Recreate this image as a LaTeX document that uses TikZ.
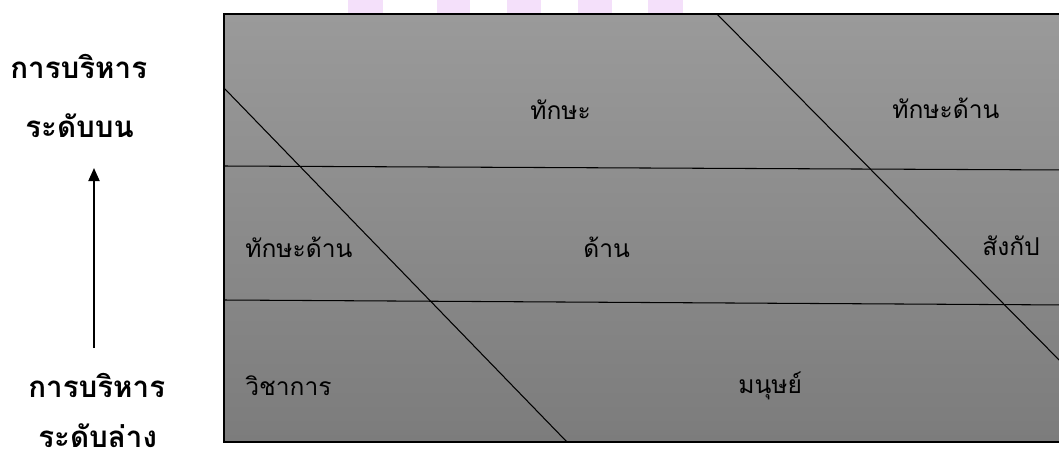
\documentclass[tikz,border=0pt]{standalone}
\usepackage{fontspec}
\newfontfamily\thaifont[Script=Thai]{Loma}
\usetikzlibrary{arrows.meta,calc,positioning}
\definecolor{Ink}{HTML}{000000}
\definecolor{TopGray}{HTML}{9A9A9A}
\definecolor{BottomGray}{HTML}{7C7C7C}
\definecolor{Lilac}{HTML}{F4E0FA}
\tikzset{
  levellabel/.style={
    font=\thaifont\bfseries\fontsize{16.8}{18}\selectfont,
    anchor=base west, inner sep=0pt, text depth=0pt
  },
  skilllabel/.style={
    font=\thaifont\fontsize{14}{16}\selectfont,
    anchor=base west, inner sep=0pt, text=Ink
  },
  divider/.style={draw=Ink, line width=0.6pt},
  frame/.style={draw=Ink, line width=0.9pt},
  uparrow/.style={-{Triangle[length=2.6mm,width=2.2mm]}, line width=1.1pt, draw=Ink}
}

\begin{document}
\begin{tikzpicture}[x=0.02cm,y=-0.02cm]
    \useasboundingbox (0,0) rectangle (1059,461);
    \clip (0,0) rectangle (1059,461);

    % faint marks above the panel
    \foreach \xa/\xb in {348/383,437/470,507/541,578/612,648/683}
      \fill[Lilac] (\xa,0) rectangle (\xb,14);

    % panel
    \coordinate (nw) at (224,14);
    \coordinate (sw) at (224,442);
    \coordinate (ne) at (1070,14);
    \coordinate (se) at (1070,442);
    \shade[top color=TopGray,bottom color=BottomGray] (nw) rectangle (se);

    \coordinate (h1w) at (224,166);
    \coordinate (h1e) at (1070,170);
    \coordinate (h2w) at (224,300);
    \coordinate (h2e) at (1070,305);
    \coordinate (d1a) at (224,88);
    \coordinate (d1b) at (567,442);
    \coordinate (d2a) at (717,14);
    \coordinate (d2b) at (1070,371);
    \draw[divider] (h1w) -- (h1e);
    \draw[divider] (h2w) -- (h2e);
    \draw[divider] (d1a) -- (d1b);
    \draw[divider] (d2a) -- (d2b);
    \draw[frame] (ne) -- (nw) -- (sw) -- (se);

    \node[skilllabel] (upmid) at (530,119) {ทักษะ};
    \node[skilllabel] (upright) at (892,118) {ทักษะด้าน};
    \node[skilllabel] (midleft) at (245,257) {ทักษะด้าน};
    \node[skilllabel] (midmid) at (583,257) {ด้าน};
    \node[skilllabel] (midright) at (982,255) {สังกัป};
    \node[skilllabel] (lowleft) at (245,395) {วิชาการ};
    \node[skilllabel] (lowmid) at (738,393) {มนุษย์};

    \node[levellabel] (top1) at (10,78) {การบริหาร};
    \node[levellabel] (top2) at (25,137) {ระดับบน};
    \node[levellabel] (low1) at (28,397) {การบริหาร};
    \node[levellabel] (low2) at (38,447) {ระดับล่าง};

    \coordinate (axis) at (94,0);
    \draw[uparrow] ($(low1.base -| axis)+(0,-49)$) -- ($(top2.base -| axis)+(0,31)$);
  \end{tikzpicture}
\end{document}
